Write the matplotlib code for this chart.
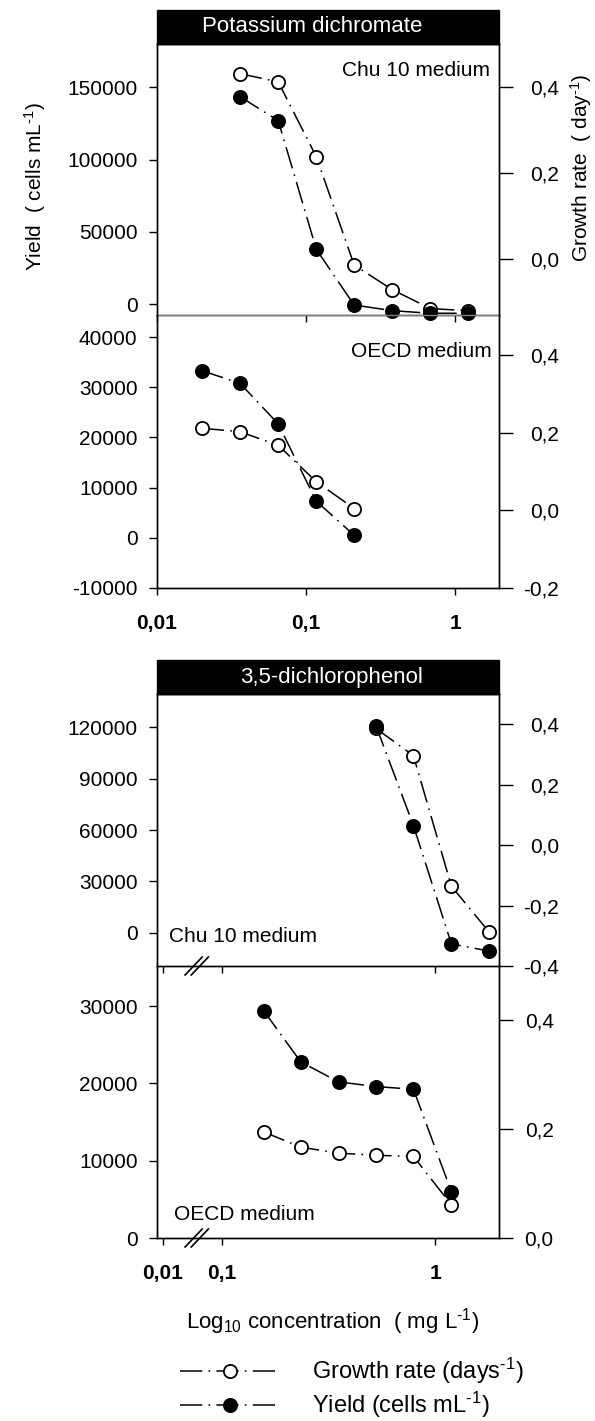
import numpy as np
import matplotlib
matplotlib.use("Agg")
import matplotlib.pyplot as plt
from matplotlib.patches import Rectangle
from matplotlib.ticker import FuncFormatter, NullLocator

plt.rcParams["font.family"] = ["Liberation Sans", "DejaVu Sans"]
plt.rcParams["mathtext.fontset"] = "custom"
plt.rcParams["mathtext.rm"] = "Liberation Sans"
plt.rcParams["mathtext.it"] = "Liberation Sans:italic"
plt.rcParams["mathtext.bf"] = "Liberation Sans:bold"
plt.rcParams["axes.unicode_minus"] = False
plt.rcParams["lines.scale_dashes"] = False

# potassium dichromate, Chu 10 medium
kd_chu_conc = [0.036, 0.065, 0.117, 0.21, 0.378, 0.68, 1.22]
kd_chu_yield = [143600, 127000, 38000, -500, -4400, -6200, -6200]
kd_chu_rate = [0.431, 0.412, 0.238, -0.014, -0.071, -0.115, -0.12]

# potassium dichromate, OECD medium
kd_oecd_conc = [0.02, 0.036, 0.065, 0.117, 0.21]
kd_oecd_yield = [33300, 30800, 22700, 7300, 500]
kd_oecd_rate = [0.212, 0.203, 0.168, 0.074, 0.005]

# 3,5-dichlorophenol, Chu 10 medium
dcp_chu_conc = [0.527, 0.79, 1.19, 1.78]
dcp_chu_yield = [121000, 62600, -6600, -10700]
dcp_chu_rate = [0.386, 0.296, -0.136, -0.286]

# 3,5-dichlorophenol, OECD medium
dcp_oecd_conc = [0.157, 0.234, 0.352, 0.527, 0.79, 1.19]
dcp_oecd_yield = [29400, 22800, 20200, 19600, 19250, 6000]
dcp_oecd_rate = [0.195, 0.167, 0.156, 0.152, 0.150, 0.061]

x_ticks = [0.01, 0.1, 1]
x_ticklabels = ["0,01", "0,1", "1"]

DASH = (0, (16, 4.5, 1.2, 4.5))
FS = 15
SUP = r"$^{\text{-1}}$"

# broken log axis for the lower two panels: below 0.1 the decades are squeezed
K = 0.276


def fwd(x):
    lg = np.log10(np.maximum(x, 1e-9))
    return np.where(lg >= -1, lg, -1 + (lg + 1) * K)


def inv(y):
    return np.where(y >= -1, 10.0 ** y, 10.0 ** (-1 + (y + 1) / K))


def comma(v, pos):
    return f"{v:.1f}".replace(".", ",")


W, H = 595, 1421
L, R = 157, 499.5

fig = plt.figure(figsize=(W / 100, H / 100), dpi=100)


def panel(top, bottom):
    ax = fig.add_axes([L / W, 1 - bottom / H, (R - L) / W, (bottom - top) / H])
    tw = ax.twinx()
    ax.set_zorder(tw.get_zorder() + 1)
    ax.patch.set_visible(False)
    for a in (ax, tw):
        for s in a.spines.values():
            s.set_linewidth(1.0)
    return ax, tw


def style(ax, tw, ylim, yticks, rlim, rticks, rpad=33):
    ax.set_ylim(ylim)
    ax.set_yticks(yticks)
    tw.set_ylim(rlim)
    tw.set_yticks(rticks)
    tw.yaxis.set_major_formatter(FuncFormatter(comma))
    ax.tick_params(axis="y", direction="out", length=6, width=1, pad=8, labelsize=FS)
    tw.tick_params(axis="y", direction="out", length=10, width=1, pad=rpad, labelsize=FS)
    for t in tw.get_yticklabels():
        t.set_horizontalalignment("right")
    ax.set_xticks(x_ticks)
    ax.xaxis.set_minor_locator(NullLocator())
    ax.tick_params(axis="x", direction="out", length=5, width=1, pad=14)


def draw(ax, tw, conc, yld, rate):
    lr, = tw.plot(conc, rate, linestyle=DASH, color="black", lw=1.1, marker="o",
                  ms=9.5, mfc="white", mec="black", mew=1.3, clip_on=False)
    ly, = ax.plot(conc, yld, linestyle=DASH, color="black", lw=1.1, marker="o",
                  ms=9.5, mfc="black", mec="black", mew=1.3, clip_on=False)
    return lr, ly


def title_box(ax, text, xc, h_px):
    ax.add_patch(Rectangle((0, 1), 1, 34 / h_px, transform=ax.transAxes,
                           facecolor="black", edgecolor="black", clip_on=False))
    ax.text(xc, 1 + 17 / h_px, text, color="white", fontsize=16, ha="center",
            va="center", transform=ax.transAxes)


def break_marks(ax, y):
    for xc in (0.107, 0.125):
        ax.plot([xc - 0.025, xc + 0.025], [y - 0.033, y + 0.033], color="black",
                lw=1.2, transform=ax.transAxes, clip_on=False, zorder=5)


# --- Potassium dichromate ---
ax1, tw1 = panel(44, 315)
ax1.set_xscale("log")
ax1.set_xlim(0.01, 1.98)
draw(ax1, tw1, kd_chu_conc, kd_chu_yield, kd_chu_rate)
style(ax1, tw1, (-7400, 180000), [0, 50000, 100000, 150000],
      (-0.13, 0.5), [0.0, 0.2, 0.4])
ax1.tick_params(axis="x", labelbottom=False)
ax1.spines["bottom"].set_color("#808080")
title_box(ax1, "Potassium dichromate", 0.452, 271)
ax1.text(0.971, 0.904, "Chu 10 medium", fontsize=FS, ha="right", va="center",
         transform=ax1.transAxes)

ax2, tw2 = panel(315, 588)
ax2.set_xscale("log")
ax2.set_xlim(0.01, 1.98)
draw(ax2, tw2, kd_oecd_conc, kd_oecd_yield, kd_oecd_rate)
style(ax2, tw2, (-10000, 44400), [-10000, 0, 10000, 20000, 30000, 40000],
      (-0.2, 0.504), [-0.2, 0.0, 0.2, 0.4])
ax2.set_xticklabels(x_ticklabels, fontsize=FS, fontweight="bold")
ax2.spines["top"].set_visible(False)
tw2.spines["top"].set_visible(False)
ax2.text(0.977, 0.866, "OECD medium", fontsize=FS, ha="right", va="center",
         transform=ax2.transAxes)

# --- 3,5-dichlorophenol ---
ax3, tw3 = panel(694, 966)
ax3.set_xscale("function", functions=(fwd, inv))
ax3.set_xlim(0.0079, 2.0)
draw(ax3, tw3, dcp_chu_conc, dcp_chu_yield, dcp_chu_rate)
style(ax3, tw3, (-19500, 139500), [0, 30000, 60000, 90000, 120000],
      (-0.4, 0.5), [-0.4, -0.2, 0.0, 0.2, 0.4])
ax3.tick_params(axis="x", labelbottom=False)
title_box(ax3, "3,5-dichlorophenol", 0.51, 272)
ax3.text(0.034, 0.108, "Chu 10 medium", fontsize=FS, ha="left", va="center",
         transform=ax3.transAxes)

ax4, tw4 = panel(966, 1238)
ax4.set_xscale("function", functions=(fwd, inv))
ax4.set_xlim(0.0079, 2.0)
lr, ly = draw(ax4, tw4, dcp_oecd_conc, dcp_oecd_yield, dcp_oecd_rate)
style(ax4, tw4, (0, 35200), [0, 10000, 20000, 30000],
      (0.0, 0.5), [0.0, 0.2, 0.4], rpad=29)
ax4.set_xticklabels(x_ticklabels, fontsize=FS, fontweight="bold")
ax4.spines["top"].set_visible(False)
tw4.spines["top"].set_visible(False)
ax4.text(0.049, 0.087, "OECD medium", fontsize=FS, ha="left", va="center",
         transform=ax4.transAxes)
break_marks(ax4, 1.0)
break_marks(ax4, 0.0)

# axis labels
fig.text(35 / W, 1 - 187 / H, "Yield  ( cells mL" + SUP + ")", rotation=90,
         fontsize=FS, ha="center", va="center")
fig.text(581 / W, 1 - 168 / H, "Growth rate  ( day" + SUP + ")", rotation=90,
         fontsize=FS, ha="center", va="center")
fig.text(333 / W, 1 - 1322 / H,
         r"Log$_{\mathregular{10}}$ concentration  ( mg L" + SUP + ")",
         fontsize=16, ha="center", va="center")

fig.legend([lr, ly],
           ["Growth rate (days" + SUP + ")", "Yield (cells mL" + SUP + ")"],
           loc="upper left", bbox_to_anchor=(180 / W, 1 - 1356 / H), frameon=False,
           fontsize=17, handlelength=4.2, handletextpad=1.4, labelspacing=0.15,
           borderpad=0, borderaxespad=0, numpoints=1)

fig.savefig("out.png", dpi=100)
